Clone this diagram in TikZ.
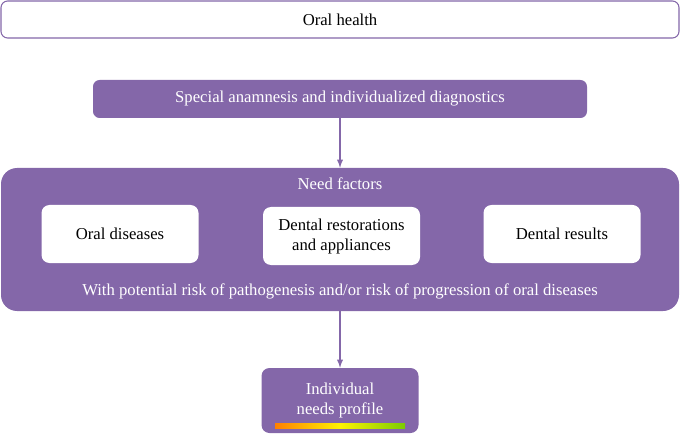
\documentclass[tikz,border=0pt]{standalone}
\usepackage{fontspec}
\setmainfont{Liberation Serif}
\usepackage{tikz}
\usetikzlibrary{shapes.geometric,arrows,calc,positioning}

\definecolor{tim}{HTML}{8467A9}
\pgfdeclarehorizontalshading{thang}{100bp}{color(0bp)=(red!85!black); color(25bp)=(orange); color(50bp)=(yellow!90!orange); color(75bp)=(yellow!60!green!80!black); color(100bp)=(green!50!black!80!white)}

\begin{document}
\begin{tikzpicture}[x=0.75pt,y=-0.75pt,
  hopkhung/.style={draw=tim, line width=0.8pt, fill=white, rounded corners=5pt},
  hoptim/.style={fill=tim, text=white, rounded corners=5pt},
  hoptrang/.style={fill=white, rounded corners=6pt, align=center, minimum width=117.75pt, minimum height=43.5pt},
  muiten/.style={-latex, draw=tim, line width=1.1pt}]
\useasboundingbox (0,0) rectangle (680,434);
\fontsize{12.5}{15}\selectfont

% Hộp trên
\node[hopkhung, minimum width=508.5pt, minimum height=27.75pt] (suckhoe) at (340,19.5) {Oral health};
\node[hoptim, minimum width=370.5pt, minimum height=28.5pt] (chandoan) at (340,99) {Special anamnesis and individualized diagnostics};

% Hộp lớn
\node[hoptim, rounded corners=12pt, minimum width=508.5pt, minimum height=107.25pt] (nhucau) at (340,239.5) {};
\node[text=white] (tieude) at (340,184) {Need factors};
\node[hoptrang] (benh) at (120,234) {Oral diseases};
\node[hoptrang] (phuchoi) at (341.5,236) {Dental restorations\\and appliances};
\node[hoptrang] (ketqua) at (562,234) {Dental results};
\node[text=white] (nguyco) at (340,291) {With potential risk of pathogenesis and/or risk of progression of oral diseases};

% Hộp dưới
\node[hoptim, rounded corners=6pt, minimum width=117.75pt, minimum height=48.75pt, align=center] (hoso) at (340,400.5) {Individual\\needs profile};
\shade[shading=thang] (275,423) rectangle (405,428);

% Mũi tên
\draw[muiten] (chandoan) -- (nhucau);
\draw[muiten] (nhucau) -- (hoso);
\end{tikzpicture}
\end{document}
